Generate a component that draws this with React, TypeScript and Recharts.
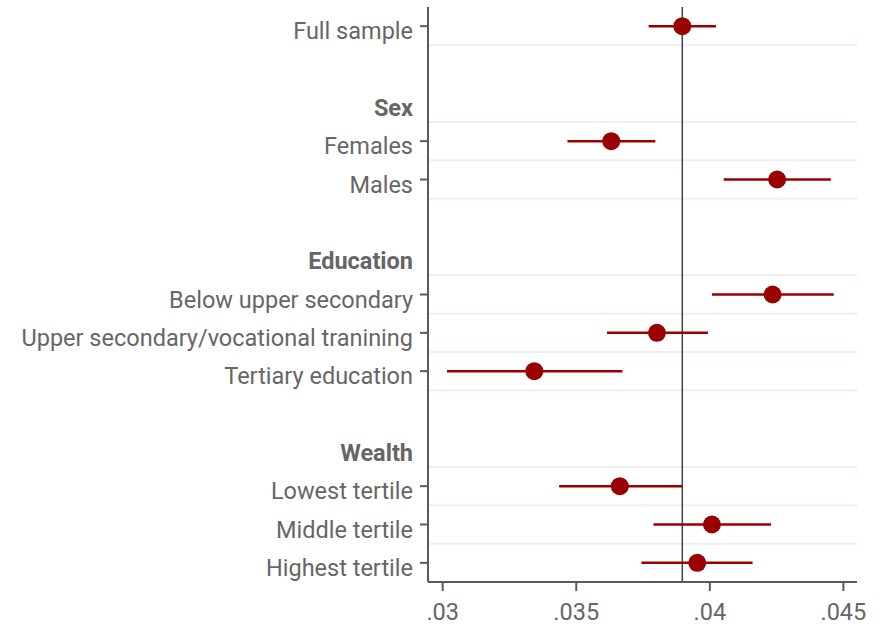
import { ScatterChart, Scatter, XAxis, YAxis, ErrorBar, ReferenceLine } from "recharts";

// rows run top to bottom, 0..14; empty rows are the gaps between groups
const categories = [
  "Full sample",
  "Females",
  "Males",
  "Below upper secondary",
  "Upper secondary/vocational tranining",
  "Tertiary education",
  "Lowest tertile",
  "Middle tertile",
  "Highest tertile",
];
const categoryRows = [0, 3, 4, 7, 8, 9, 12, 13, 14];
const estimates = [0.03897, 0.03631, 0.04252, 0.04235, 0.03802, 0.03343, 0.03663, 0.04008, 0.03953];
const ciLower = [0.03771, 0.03467, 0.04052, 0.04008, 0.03615, 0.03016, 0.03436, 0.03789, 0.03744];
const ciUpper = [0.04023, 0.03796, 0.04453, 0.04464, 0.03993, 0.03673, 0.03896, 0.04229, 0.0416];

const headers = ["Sex", "Education", "Wealth"];
const headerRows = [2, 6, 11];

const xTicks = [0.03, 0.035, 0.04, 0.045];

const data = categories.map((name, i) => ({
  name,
  row: categoryRows[i],
  est: estimates[i],
  ci: [estimates[i] - ciLower[i], ciUpper[i] - estimates[i]],
}));

const rowLabel: Record<number, { text: string; header: boolean }> = {};
categories.forEach((c, i) => (rowLabel[categoryRows[i]] = { text: c, header: false }));
headers.forEach((h, i) => (rowLabel[headerRows[i]] = { text: h, header: true }));

const yTicks = [...categoryRows, ...headerRows].sort((a, b) => a - b);
const maxRow = Math.max(...categoryRows);
const gridRows = yTicks.filter((r) => r < maxRow).map((r) => r + 0.5);

const TEXT = "#666666";
const AXIS = "#5a5a5a";
const RED = "#990000";
const FONT = "Roboto, sans-serif";
const FS = 23.5;

const YTick = (props: any) => {
  const { x, y, payload } = props;
  const info = rowLabel[payload.value];
  if (!info) return null;
  return (
    <g>
      {!info.header && <line x1={x + 7} x2={x + 15} y1={y} y2={y} stroke={AXIS} strokeWidth={2} />}
      <text
        x={x}
        y={y}
        dy={13}
        textAnchor="end"
        fill={TEXT}
        fontSize={FS}
        fontFamily={FONT}
        fontWeight={info.header ? 700 : 400}
      >
        {info.text}
      </text>
    </g>
  );
};

const Dot = (props: any) => <circle cx={props.cx} cy={props.cy} r={9} fill={RED} />;

const fmt = (v: number) => String(v).replace(/^0/, "");

export default function App() {
  return (
    <div style={{ position: "absolute", left: 0, top: 0, background: "#fff" }}>
      <ScatterChart width={888} height={626} margin={{ top: 7, right: 31, bottom: 0, left: 0 }}>
        <XAxis
          type="number"
          dataKey="est"
          domain={[0.02945, 0.04551]}
          allowDataOverflow
          ticks={xTicks}
          tickFormatter={fmt}
          height={44}
          tickSize={9}
          tickMargin={12}
          axisLine={{ stroke: AXIS, strokeWidth: 2 }}
          tickLine={{ stroke: AXIS, strokeWidth: 2 }}
          tick={{ fill: TEXT, fontSize: FS, fontFamily: FONT }}
        />
        <YAxis
          type="number"
          dataKey="row"
          domain={[-0.5, maxRow + 0.5]}
          allowDataOverflow
          reversed
          ticks={yTicks}
          interval={0}
          width={428}
          tickSize={8}
          tickMargin={7}
          tickLine={false}
          axisLine={{ stroke: AXIS, strokeWidth: 2 }}
          tick={<YTick />}
        />
        {gridRows.map((r) => (
          <ReferenceLine key={r} y={r} stroke="#e9f1f3" strokeWidth={2} />
        ))}
        <ReferenceLine x={estimates[0]} stroke="#444444" strokeWidth={1.5} />
        <Scatter data={data} shape={<Dot />} isAnimationActive={false}>
          <ErrorBar dataKey="ci" direction="x" width={0} stroke={RED} strokeWidth={2.5} isAnimationActive={false} />
        </Scatter>
      </ScatterChart>
    </div>
  );
}
